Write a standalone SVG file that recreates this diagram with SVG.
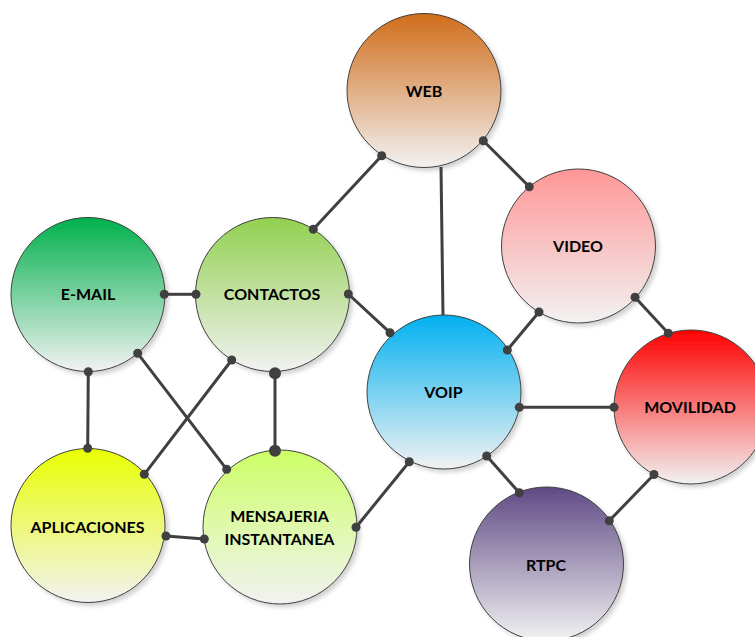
<svg xmlns="http://www.w3.org/2000/svg" width="755" height="637" viewBox="0 0 755 637">
<defs>
<style>
.n{stroke:#404040;stroke-width:1;filter:url(#sh)}
.t{font-family:Lato,"Open Sans","Liberation Sans",sans-serif;font-weight:bold;font-size:16px;fill:#000;text-anchor:middle}
.c line{stroke:#404040;stroke-width:3}
.c circle{fill:#404040}
</style>
<filter id="sh" x="-20%" y="-20%" width="150%" height="150%">
<feDropShadow dx="3" dy="3" stdDeviation="2" flood-color="#000" flood-opacity="0.18"/>
</filter>
<linearGradient id="gWeb" x1="0" y1="0" x2="0" y2="1"><stop offset="0" stop-color="#d06c1a"/><stop offset="1" stop-color="#f2f2f2"/></linearGradient>
<linearGradient id="gMail" x1="0" y1="0" x2="0" y2="1"><stop offset="0" stop-color="#00b04c"/><stop offset="1" stop-color="#f2f2f2"/></linearGradient>
<linearGradient id="gCont" x1="0" y1="0" x2="0" y2="1"><stop offset="0" stop-color="#92d050"/><stop offset="1" stop-color="#f2f2f2"/></linearGradient>
<linearGradient id="gVid" x1="0" y1="0" x2="0" y2="1"><stop offset="0" stop-color="#ff9696"/><stop offset="1" stop-color="#f2f2f2"/></linearGradient>
<linearGradient id="gVoip" x1="0" y1="0" x2="0" y2="1"><stop offset="0" stop-color="#00b0f0"/><stop offset="1" stop-color="#f2f2f2"/></linearGradient>
<linearGradient id="gMov" x1="0" y1="0" x2="0" y2="1"><stop offset="0" stop-color="#ff0000"/><stop offset="1" stop-color="#f2f2f2"/></linearGradient>
<linearGradient id="gApl" x1="0" y1="0" x2="0" y2="1"><stop offset="0" stop-color="#e8ff00"/><stop offset="1" stop-color="#f2f2f2"/></linearGradient>
<linearGradient id="gMen" x1="0" y1="0" x2="0" y2="1"><stop offset="0" stop-color="#ccff66"/><stop offset="1" stop-color="#f2f2f2"/></linearGradient>
<linearGradient id="gRtpc" x1="0" y1="0" x2="0" y2="1"><stop offset="0" stop-color="#5f4a85"/><stop offset="1" stop-color="#f2f2f2"/></linearGradient>
</defs>
<rect width="755" height="637" fill="#fff"/>
<g id="web"><circle class="n" cx="424" cy="90.5" r="77" fill="url(#gWeb)"/><text class="t" x="424" y="96.5">WEB</text></g>
<g id="video"><circle class="n" cx="578.5" cy="246" r="77" fill="url(#gVid)"/><text class="t" x="578" y="251.5">VIDEO</text></g>
<g id="email"><circle class="n" cx="88" cy="294.5" r="77" fill="url(#gMail)"/><text class="t" x="88" y="300">E-MAIL</text></g>
<g id="contactos"><circle class="n" cx="272.5" cy="294.5" r="77" fill="url(#gCont)"/><text class="t" x="272" y="300">CONTACTOS</text></g>
<g id="voip"><circle class="n" cx="444" cy="392" r="77" fill="url(#gVoip)"/><text class="t" x="443.5" y="397.5">VOIP</text></g>
<g id="movilidad"><circle class="n" cx="691" cy="407" r="77" fill="url(#gMov)"/><text class="t" x="690" y="413">MOVILIDAD</text></g>
<g id="aplicaciones"><circle class="n" cx="88" cy="525.5" r="77" fill="url(#gApl)"/><text class="t" x="87.5" y="532.5">APLICACIONES</text></g>
<g id="mensajeria"><circle class="n" cx="280" cy="527" r="77" fill="url(#gMen)"/><text class="t" x="279.5" y="522">MENSAJERIA</text><text class="t" x="279.5" y="544.5">INSTANTANEA</text></g>
<g id="rtpc"><circle class="n" cx="546.5" cy="564" r="77" fill="url(#gRtpc)"/><text class="t" x="546" y="570.5">RTPC</text></g>
<g id="connectors" class="c">
<line x1="381.7" y1="155.7" x2="313.3" y2="229.3"/><circle cx="381.7" cy="155.7" r="4.5"/><circle cx="313.3" cy="229.3" r="4.5"/>
<line x1="483.3" y1="140.7" x2="529.3" y2="186.7"/><circle cx="483.3" cy="140.7" r="4.5"/><circle cx="529.3" cy="186.7" r="4.5"/>
<line x1="441" y1="167" x2="443" y2="315"/>
<line x1="164.3" y1="294.3" x2="196" y2="294.3"/><circle cx="164.3" cy="294.3" r="4.5"/><circle cx="196" cy="294.3" r="4.5"/>
<line x1="348.3" y1="294" x2="390" y2="332.7"/><circle cx="348.3" cy="294" r="4.5"/><circle cx="390" cy="332.7" r="4.5"/>
<line x1="88.3" y1="371.7" x2="87.7" y2="448.3"/><circle cx="88.3" cy="371.7" r="4.5"/><circle cx="87.7" cy="448.3" r="4.5"/>
<line x1="137.7" y1="353.3" x2="226.7" y2="469.3"/><circle cx="137.7" cy="353.3" r="4.5"/><circle cx="226.7" cy="469.3" r="4.5"/>
<line x1="231.7" y1="360" x2="144.3" y2="474.3"/><circle cx="231.7" cy="360" r="4.5"/><circle cx="144.3" cy="474.3" r="4.5"/>
<line x1="275" y1="373.3" x2="275" y2="450.7"/><circle cx="275" cy="373.3" r="6"/><circle cx="275" cy="450.7" r="6"/>
<line x1="166" y1="536" x2="204.3" y2="539"/><circle cx="166" cy="536" r="4.5"/><circle cx="204.3" cy="539" r="4.5"/>
<line x1="356" y1="527.3" x2="409.3" y2="461.7"/><circle cx="356" cy="527.3" r="4.5"/><circle cx="409.3" cy="461.7" r="4.5"/>
<line x1="507.3" y1="350" x2="539" y2="312"/><circle cx="507.3" cy="350" r="4.5"/><circle cx="539" cy="312" r="4.5"/>
<line x1="635" y1="297.3" x2="668.3" y2="333.3"/><circle cx="635" cy="297.3" r="4.5"/><circle cx="668.3" cy="333.3" r="4.5"/>
<line x1="519.3" y1="407.3" x2="614" y2="407.3"/><circle cx="519.3" cy="407.3" r="4.5"/><circle cx="614" cy="407.3" r="4.5"/>
<line x1="486.7" y1="456" x2="519.3" y2="492.7"/><circle cx="486.7" cy="456" r="4.5"/><circle cx="519.3" cy="492.7" r="4.5"/>
<line x1="654" y1="474.5" x2="609.3" y2="520.7"/><circle cx="654" cy="474.5" r="4.5"/><circle cx="609.3" cy="520.7" r="4.5"/>
</g>
</svg>
